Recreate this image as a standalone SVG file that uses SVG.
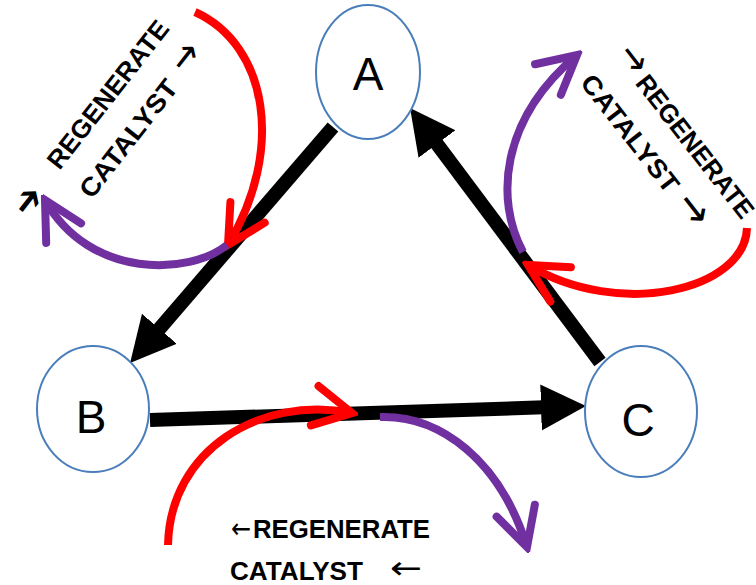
<svg xmlns="http://www.w3.org/2000/svg" width="756" height="585" viewBox="0 0 756 585">
<style>
.blk{stroke:#000;stroke-width:14;fill:none;marker-end:url(#bh)}
.red{stroke:#ff0000;stroke-width:8;fill:none;marker-end:url(#rh)}
.pur{stroke:#7030a0;stroke-width:8;fill:none;marker-end:url(#ph)}
.node{fill:#fff;stroke:#4a7ebb;stroke-width:2}
.nl{font-family:"Liberation Sans",Arial,sans-serif;font-size:46px;text-anchor:middle;fill:#000}
.lbl{font-family:"Liberation Sans",Arial,sans-serif;font-size:26px;font-weight:bold;fill:#000;text-anchor:middle}
.arw{font-family:"DejaVu Sans",sans-serif;fill:#000;text-anchor:middle;dominant-baseline:central}
</style>
<defs>
<marker id="bh" markerUnits="userSpaceOnUse" viewBox="0 -25 50 50" markerWidth="50" markerHeight="50" refX="10" refY="0" orient="auto">
<path d="M0,-23 L45,0 L0,23 Z" fill="#000"/>
</marker>
<marker id="rh" markerUnits="userSpaceOnUse" viewBox="-44 -26 50 52" markerWidth="50" markerHeight="52" refX="0" refY="0" orient="auto">
<path d="M-38,-20 L0,0 L-38,20" fill="none" stroke="#ff0000" stroke-width="8" stroke-linecap="round" stroke-linejoin="miter"/>
</marker>
<marker id="ph" markerUnits="userSpaceOnUse" viewBox="-44 -26 50 52" markerWidth="50" markerHeight="52" refX="0" refY="0" orient="auto">
<path d="M-38,-20 L0,0 L-38,20" fill="none" stroke="#7030a0" stroke-width="8" stroke-linecap="round" stroke-linejoin="miter"/>
</marker>
</defs>
<g id="connectors">
<line class="blk" x1="333" y1="127" x2="152.9" y2="336.4"/>
<line class="blk" x1="600" y1="362" x2="431" y2="136"/>
<line class="blk" x1="150" y1="420" x2="551" y2="407.1"/>
<path class="red" d="M195,12 C268,45 285,150 228,245"/>
<path class="pur" d="M227,245 C190,275 90,280 45,200"/>
<path class="red" d="M747,228 C745,290 620,320 528,265"/>
<path class="pur" d="M523,252 C495,200 500,120 577,55"/>
<path class="red" d="M168,545 C170,450 260,395 352,413"/>
<path class="pur" d="M380,417 C440,415 500,460 527,547"/>
</g>
<g id="A">
<ellipse class="node" cx="368" cy="72" rx="52" ry="67"/>
<text class="nl" x="368" y="90">A</text>
</g>
<g id="B">
<ellipse class="node" cx="93" cy="409" rx="56" ry="63"/>
<text class="nl" x="91" y="433">B</text>
</g>
<g id="C">
<ellipse class="node" cx="641" cy="411.5" rx="56" ry="65.5"/>
<text class="nl" x="638" y="436">C</text>
</g>
<g id="label-left">
<text class="lbl" transform="translate(115,100) rotate(-52)" textLength="180" lengthAdjust="spacingAndGlyphs">REGENERATE</text>
<text class="lbl" transform="translate(135.5,144) rotate(-52)" textLength="142" lengthAdjust="spacingAndGlyphs">CATALYST</text>
<text class="arw" font-size="40" transform="translate(27,200) rotate(-52)" textLength="28" lengthAdjust="spacingAndGlyphs">➔</text>
<text class="arw" font-size="40" transform="translate(184,56) rotate(-52)" textLength="28" lengthAdjust="spacingAndGlyphs">→</text>
</g>
<g id="label-right">
<text class="lbl" transform="translate(688,152) rotate(52)" textLength="174" lengthAdjust="spacingAndGlyphs">REGENERATE</text>
<text class="lbl" transform="translate(623,139) rotate(52)" textLength="142" lengthAdjust="spacingAndGlyphs">CATALYST</text>
<text class="arw" font-size="40" transform="translate(635,58) rotate(52)" textLength="28" lengthAdjust="spacingAndGlyphs">→</text>
<text class="arw" font-size="44" transform="translate(695,208) rotate(52)" textLength="32" lengthAdjust="spacingAndGlyphs">→</text>
</g>
<g id="label-bottom">
<text class="lbl" x="341.5" y="538" textLength="177" lengthAdjust="spacingAndGlyphs">REGENERATE</text>
<text class="lbl" x="296.5" y="580" textLength="133" lengthAdjust="spacingAndGlyphs">CATALYST</text>
<text class="arw" font-size="28" x="241" y="528" textLength="20" lengthAdjust="spacingAndGlyphs">←</text>
<text class="arw" font-size="32" x="406" y="568" textLength="32" lengthAdjust="spacingAndGlyphs">←</text>
</g>
</svg>
